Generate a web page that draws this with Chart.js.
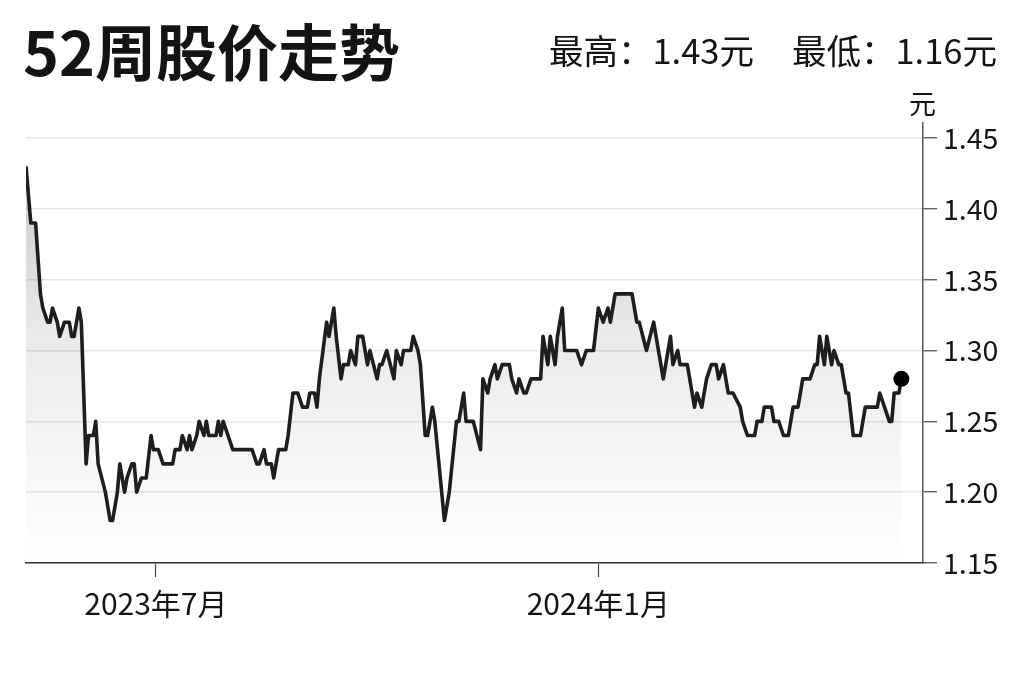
<!DOCTYPE html>
<html>
<head>
<meta charset="utf-8">
<script src="https://cdn.jsdelivr.net/npm/chart.js@4.4.1/dist/chart.umd.min.js"></script>
<style>
  body { margin: 0; background: #fff; }
  #wrap { position: relative; width: 1024px; height: 682px; font-family: "Noto Sans CJK SC", "Noto Sans", sans-serif; color: #141414; }
  #wrap canvas { position: absolute; left: 0; top: 0; }
  .title { position: absolute; left: 23px; top: 19px; font-size: 61px; font-weight: 700; line-height: 1; }
  .range { position: absolute; right: 27px; top: 32px; font-size: 34.5px; line-height: 1; }
  .range span + span { margin-left: 38px; }
  .unit { position: absolute; left: 909px; top: 89px; font-size: 27px; line-height: 1; }
</style>
</head>
<body>
<div id="wrap">
  <canvas id="priceChart" width="1024" height="682"></canvas>
  <div class="title">52周股价走势</div>
  <div class="range"><span>最高：1.43元</span><span>最低：1.16元</span></div>
  <div class="unit">元</div>
</div>
<script>
// days counted from 2023-05-08
const days = [
  0, 2, 4, 6, 7, 9, 10, 11, 13, 14, 16, 18, 19, 20, 22, 23, 25, 26, 28, 29,
  30, 33, 35, 36, 38, 39, 41, 42, 44, 45, 46, 48, 50, 52, 53, 55, 57, 61, 62, 64,
  65, 67, 68, 69, 71, 72, 74, 75, 76, 79, 80, 81, 82, 84, 86, 94, 96, 97, 99, 100,
  102, 103, 105, 108, 109, 111, 113, 115, 117, 118, 120, 121, 122, 125, 126, 128, 129, 131, 132, 134,
  135, 137, 138, 140, 142, 143, 146, 147, 148, 150, 153, 154, 156, 157, 160, 161, 163, 164, 166, 167,
  169, 170, 174, 176, 179, 180, 182, 183, 186, 189, 190, 192, 193, 195, 196, 198, 201, 202, 204, 205,
  207, 208, 210, 214, 215, 217, 218, 220, 221, 223, 224, 229, 231, 233, 236, 238, 240, 242, 243, 245,
  252, 254, 255, 258, 261, 263, 265, 268, 269, 271, 272, 275, 277, 278, 279, 281, 283, 285, 287, 288,
  290, 292, 294, 297, 298, 300, 303, 304, 306, 307, 310, 311, 313, 315, 317, 319, 321, 323, 326, 328,
  329, 330, 332, 333, 335, 336, 338, 339, 341, 342, 344, 347, 349, 354, 355, 357, 359, 360, 361, 363,
  364
];
const prices = [
  1.43, 1.39, 1.39, 1.34, 1.33, 1.32, 1.32, 1.33, 1.32, 1.31, 1.32, 1.32, 1.31, 1.31, 1.33, 1.32, 1.22, 1.24, 1.24, 1.25,
  1.22, 1.20, 1.18, 1.18, 1.20, 1.22, 1.20, 1.21, 1.22, 1.22, 1.20, 1.21, 1.21, 1.24, 1.23, 1.23, 1.22, 1.22, 1.23, 1.23,
  1.24, 1.23, 1.24, 1.23, 1.24, 1.25, 1.24, 1.25, 1.24, 1.24, 1.25, 1.24, 1.25, 1.24, 1.23, 1.23, 1.22, 1.22, 1.23, 1.22,
  1.22, 1.21, 1.23, 1.23, 1.24, 1.27, 1.27, 1.26, 1.26, 1.27, 1.27, 1.26, 1.28, 1.32, 1.31, 1.33, 1.31, 1.28, 1.29, 1.29,
  1.30, 1.29, 1.31, 1.31, 1.29, 1.30, 1.28, 1.29, 1.29, 1.30, 1.28, 1.30, 1.29, 1.30, 1.30, 1.31, 1.30, 1.29, 1.24, 1.24,
  1.26, 1.25, 1.18, 1.20, 1.25, 1.25, 1.27, 1.25, 1.25, 1.23, 1.28, 1.27, 1.28, 1.29, 1.28, 1.29, 1.29, 1.28, 1.27, 1.28,
  1.27, 1.27, 1.28, 1.28, 1.31, 1.29, 1.31, 1.29, 1.31, 1.33, 1.30, 1.30, 1.29, 1.30, 1.30, 1.33, 1.32, 1.33, 1.32, 1.34,
  1.34, 1.32, 1.32, 1.30, 1.32, 1.30, 1.28, 1.31, 1.29, 1.30, 1.29, 1.29, 1.27, 1.26, 1.27, 1.26, 1.28, 1.29, 1.29, 1.28,
  1.29, 1.27, 1.27, 1.26, 1.25, 1.24, 1.24, 1.25, 1.25, 1.26, 1.26, 1.25, 1.25, 1.24, 1.24, 1.26, 1.26, 1.28, 1.28, 1.29,
  1.29, 1.31, 1.29, 1.31, 1.29, 1.30, 1.29, 1.29, 1.27, 1.27, 1.24, 1.24, 1.26, 1.26, 1.27, 1.26, 1.25, 1.25, 1.27, 1.27,
  1.28
];
const tickDays = [54, 238];
const tickLabels = ['2023年7月', '2024年1月'];
const yMin = 1.15, yMax = 1.45, yStep = 0.05;
const lastDay = 373;

const fontFamily = '"Noto Sans CJK SC", "Noto Sans", sans-serif';
const lastIndex = prices.length - 1;

function areaGradient(context) {
    const { ctx, chartArea } = context.chart;
    if (!chartArea) return 'rgba(0,0,0,0.1)';
    const g = ctx.createLinearGradient(0, chartArea.top, 0, chartArea.bottom);
    g.addColorStop(0, 'rgba(0,0,0,0.24)');
    g.addColorStop(0.5, 'rgba(0,0,0,0.08)');
    g.addColorStop(1, 'rgba(0,0,0,0.0)');
    return g;
}

// y ticks 1.15 ... 1.45
function priceTicks() {
    const ticks = [];
    for (let v = yMin; v <= yMax + 1e-9; v += yStep) ticks.push({ value: +v.toFixed(2) });
    return ticks;
}

new Chart(document.getElementById('priceChart'), {
    type: 'line',
    data: {
        datasets: [{
            data: days.map((d, i) => ({ x: d, y: prices[i] })),
            borderColor: '#1e1e1e',
            borderWidth: 3.6,
            borderJoinStyle: 'round',
            tension: 0,
            fill: 'start',
            backgroundColor: areaGradient,
            pointRadius: ctx => ctx.dataIndex === lastIndex ? 8 : 0,
            pointBackgroundColor: '#000',
            pointBorderWidth: 0
        }]
    },
    options: {
        responsive: false,
        animation: false,
        layout: { padding: { left: 26, top: 123, right: 0, bottom: 0 } },
        plugins: { legend: { display: false }, tooltip: { enabled: false } },
        scales: {
            x: {
                type: 'linear',
                min: 0,
                max: lastDay,
                afterBuildTicks: scale => { scale.ticks = tickDays.map(v => ({ value: v })); },
                afterFit: scale => { scale.height = 119; },
                ticks: {
                    autoSkip: false,
                    maxRotation: 0,
                    padding: 9,
                    color: '#141414',
                    font: { family: fontFamily, size: 30 },
                    callback: (v) => tickLabels[tickDays.indexOf(v)]
                },
                grid: { drawOnChartArea: false, tickLength: 14, tickColor: '#444', tickWidth: 1.2 },
                border: { color: '#333', width: 1.5 }
            },
            y: {
                position: 'right',
                min: yMin,
                // axis line runs a little above the top tick
                max: yMax + 0.0106,
                afterBuildTicks: scale => { scale.ticks = priceTicks(); },
                afterFit: scale => { scale.width = 101; },
                ticks: {
                    autoSkip: false,
                    padding: 6,
                    color: '#141414',
                    font: { family: fontFamily, size: 28.5 },
                    callback: v => v.toFixed(2)
                },
                grid: { color: '#e6e6e6', lineWidth: 1.5, tickLength: 14, tickColor: '#444', tickWidth: 1.2 },
                border: { color: '#555', width: 1.5 }
            }
        }
    }
});
</script>
</body>
</html>
